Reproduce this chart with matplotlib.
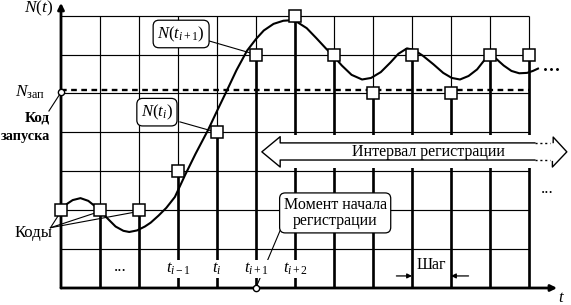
import matplotlib
matplotlib.use("Agg")
import matplotlib.pyplot as plt
from matplotlib.patches import Polygon, Rectangle

plt.rcParams["font.family"] = ["Liberation Serif", "DejaVu Serif"]
plt.rcParams["mathtext.fontset"] = "custom"
plt.rcParams["mathtext.rm"] = "Liberation Serif"
plt.rcParams["mathtext.it"] = "Liberation Serif:italic"

# sample moments (grid steps) and the recorded codes
sample_t = list(range(13))
codes = [2, 2, 2, 3, 4, 6, 7, 6, 5, 6, 5, 6, 6]

# continuous signal N(t)
curve_t = [0.00, 0.15, 0.30, 0.50, 0.70, 0.85, 1.00, 1.20, 1.40, 1.60, 1.75,
           1.95, 2.15, 2.30, 2.50, 2.70, 2.92, 3.18, 3.45, 3.77, 4.00, 4.26,
           4.50, 4.77, 5.00, 5.20, 5.45, 5.70, 5.85, 6.05, 6.30, 6.55, 6.80,
           7.00, 7.20, 7.45, 7.72, 7.95, 8.20, 8.45, 8.65, 8.87, 9.05, 9.28,
           9.55, 9.80, 10.02, 10.23, 10.45, 10.67, 10.85, 11.00, 11.15, 11.35,
           11.55, 11.75, 11.95, 12.10, 12.23]
curve_n = [2.00, 2.16, 2.26, 2.31, 2.24, 2.12, 2.00, 1.78, 1.58, 1.47, 1.44,
           1.48, 1.58, 1.68, 1.86, 2.06, 2.34, 2.90, 3.45, 4.06, 4.55, 5.09,
           5.60, 6.10, 6.40, 6.62, 6.79, 6.87, 6.88, 6.84, 6.68, 6.42, 6.15,
           5.95, 5.72, 5.48, 5.36, 5.40, 5.55, 5.80, 6.02, 6.16, 6.12, 5.97,
           5.75, 5.53, 5.40, 5.36, 5.45, 5.62, 5.85, 5.98, 5.90, 5.72,
           5.58, 5.52, 5.53, 5.58, 5.64]

n_start = 5.08          # trigger level N_зап
n_cols, n_rows = 12, 7  # grid size

tick_pos = [3, 4, 5, 6]
tick_labels = [r"$t_{i-1}$", r"$t_i$", r"$t_{i+1}$", r"$t_{i+2}$"]

fig = plt.figure(figsize=(5.71, 3.05), dpi=100)
ax = fig.add_axes([0, 0, 1, 1])
ax.set_xlim(-61 / 39, 510 / 39)
ax.set_ylim(-17 / 38.9, 288 / 38.9)
ax.axis("off")

# thin grid
ax.vlines(range(1, n_cols + 1), 0, n_rows, color="k", lw=0.85, zorder=1)
ax.hlines(range(1, n_rows + 1), 0, n_cols, color="k", lw=0.85, zorder=1)

# axes with arrows
ax.annotate("", xy=(12.72, 0), xytext=(0, 0),
            arrowprops=dict(arrowstyle="-|>", lw=2.0, color="k", mutation_scale=9,
                            shrinkA=0, shrinkB=0), zorder=6)
ax.annotate("", xy=(0, 7.33), xytext=(0, 0),
            arrowprops=dict(arrowstyle="-|>", lw=2.0, color="k", mutation_scale=9,
                            shrinkA=0, shrinkB=0), zorder=6)

# sample stems
ax.vlines(sample_t[1:], 0, codes[1:], color="k", lw=1.9, zorder=3)

# trigger level
ax.plot([0, n_cols], [n_start, n_start], color="k", lw=1.7,
        dashes=(2.4, 1.9), zorder=3)

# registration interval arrow (white filled, hides the grid)
ax.add_patch(Rectangle((5.62, 3.08), 7.0, 0.85, facecolor="white",
                       edgecolor="none", zorder=4))
ax.add_patch(Polygon([(5.15, 3.50), (5.62, 3.89), (5.62, 3.11)],
                     closed=True, facecolor="white", edgecolor="none", zorder=4))
ax.plot([12.15, 5.62, 5.62, 5.15, 5.62, 5.62, 12.15],
        [3.73, 3.73, 3.89, 3.50, 3.11, 3.29, 3.29], color="k", lw=1.0, zorder=5)
ax.plot([12.15, 12.55], [3.73, 3.73], color="k", lw=1.0, ls=(0, (1.5, 2)), zorder=5)
ax.plot([12.15, 12.55], [3.29, 3.29], color="k", lw=1.0, ls=(0, (1.5, 2)), zorder=5)
ax.plot([12.62, 12.62, 12.97, 12.60, 12.60], [3.74, 3.88, 3.50, 3.11, 3.25],
        color="k", lw=1.0, zorder=5)
ax.text(9.42, 3.50, "Интервал регистрации", fontsize=11.5, ha="center",
        va="center", zorder=6)

# signal and codes
ax.plot(curve_t, curve_n, color="k", lw=1.5, zorder=6, solid_joinstyle="round")
ax.plot([12.40, 12.56, 12.72], [5.64, 5.64, 5.64], ls="none", marker="o",
        ms=1.1, color="k")
ax.plot(sample_t, codes, ls="none", marker="s", ms=8.3, mfc="white",
        mec="k", mew=1.1, zorder=8)

# start code marker and start moment marker
ax.plot([0], [5.03], marker="o", ms=4.5, mfc="white", mec="k", mew=1.0, zorder=9)
ax.plot([5], [0], marker="o", ms=4.5, mfc="white", mec="k", mew=1.0, zorder=9)

# left labels
ax.text(-0.56, 7.18, r"$N(t)$", fontsize=12.5, ha="center", va="center")
ax.text(-0.40, 5.03, r"$N_{\mathrm{зап}}$", fontsize=12.5, ha="right", va="center")
ax.text(-0.28, 4.37, "Код", fontsize=11, ha="right", va="center", weight="bold")
ax.text(-0.28, 3.90, "запуска", fontsize=10.3, ha="right", va="center", weight="bold")
ax.plot([0, -0.31], [5.03, 4.55], color="k", lw=0.8)

ax.text(-0.22, 1.42, "Коды", fontsize=12, ha="right", va="center")
for t_code, n_code in zip(sample_t[:3], codes[:3]):
    ax.plot([-0.27, t_code], [1.55, n_code - 0.03], color="k", lw=0.8, zorder=7)

# callouts
box = dict(boxstyle="round,pad=0.25,rounding_size=0.35", facecolor="white",
           edgecolor="k", lw=0.9)
ax.plot([3.80, 5], [6.35, 6], color="k", lw=0.8, zorder=7)
ax.text(3.08, 6.53, r"$N(t_{i+1})$", fontsize=12, ha="center", va="center",
        bbox=box, zorder=10)
ax.plot([3.05, 4], [4.27, 4], color="k", lw=0.8, zorder=7)
ax.text(2.46, 4.52, r"$N(t_i)$", fontsize=12, ha="center", va="center",
        bbox=box, zorder=10)
ax.plot([5.67, 5.03], [1.60, 0.08], color="k", lw=0.8, zorder=7)
ax.text(7.03, 1.93, "Момент начала\nрегистрации", fontsize=11.5, ha="center",
        va="center", linespacing=1.0, bbox=box, zorder=10)

# bottom labels
for pos, lab in zip(tick_pos, tick_labels):
    ax.text(pos, 0.49, lab, fontsize=12, ha="center", va="center", zorder=10,
            bbox=dict(facecolor="white", edgecolor="none", pad=0.5))
ax.text(1.51, 0.55, "...", fontsize=12, ha="center", va="center")
ax.text(12.46, 2.55, "...", fontsize=12, ha="center", va="center")
ax.text(9.49, 0.58, "Шаг", fontsize=11.5, ha="center", va="center")
ax.annotate("", xy=(9, 0.31), xytext=(8.60, 0.31),
            arrowprops=dict(arrowstyle="-|>", lw=0.9, color="k", mutation_scale=7,
                            shrinkA=0, shrinkB=0))
ax.annotate("", xy=(10, 0.31), xytext=(10.45, 0.31),
            arrowprops=dict(arrowstyle="-|>", lw=0.9, color="k", mutation_scale=7,
                            shrinkA=0, shrinkB=0))
ax.text(12.82, -0.25, r"$t$", fontsize=12, ha="center", va="center")

fig.savefig("out.png", dpi=100)
